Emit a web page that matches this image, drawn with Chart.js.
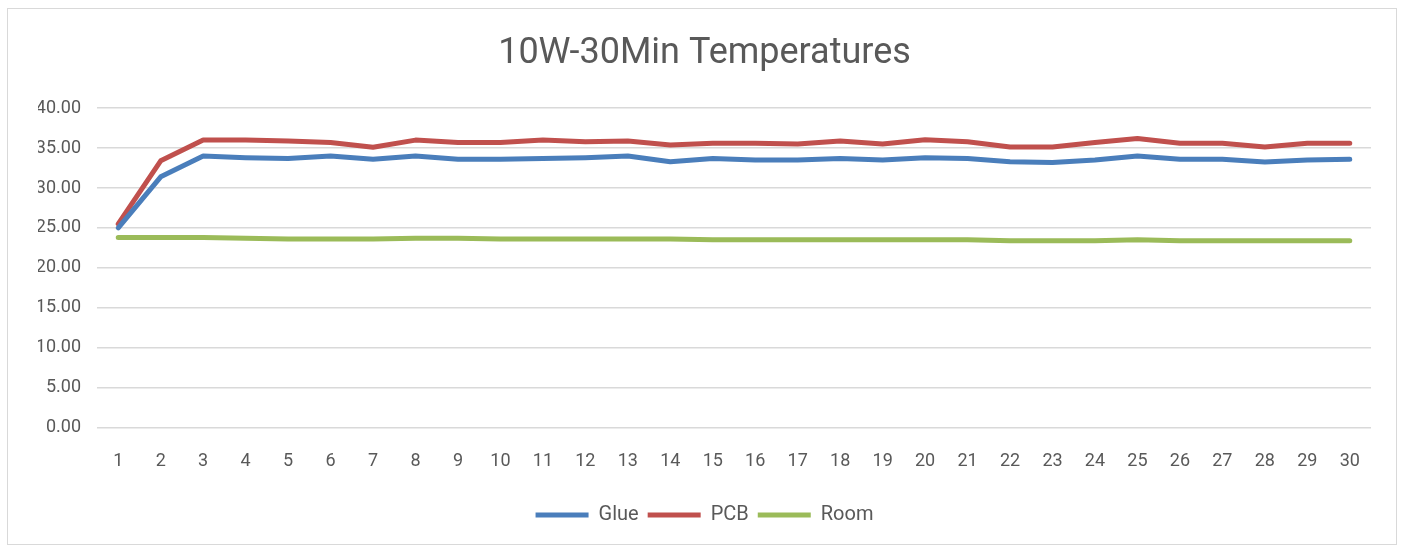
<!DOCTYPE html>
<html>
<head>
<meta charset="utf-8">
<script src="https://cdn.jsdelivr.net/npm/chart.js@4/dist/chart.umd.min.js"></script>
<style>
  html, body { margin: 0; padding: 0; background: #fff; }
  #wrap { position: relative; width: 1401px; height: 549px; }
  #frame { position: absolute; left: 7px; top: 8px; width: 1390px; height: 537px; border: 1px solid #d9d9d9; box-sizing: border-box; pointer-events: none; }
</style>
</head>
<body>
<div id="wrap">
  <canvas id="chart" width="1401" height="549"></canvas>
  <div id="frame"></div>
</div>
<script>
// minutes 1..30
const minutes = ['1','2','3','4','5','6','7','8','9','10','11','12','13','14','15','16','17','18','19','20','21','22','23','24','25','26','27','28','29','30'];

const glue = [25.0, 31.4, 34.0, 33.8, 33.7, 34.0, 33.6, 34.0, 33.6, 33.6, 33.7, 33.8, 34.0, 33.3, 33.7,
              33.5, 33.5, 33.7, 33.5, 33.8, 33.7, 33.3, 33.2, 33.5, 34.0, 33.6, 33.6, 33.25, 33.5, 33.6];
const pcb  = [25.5, 33.4, 36.0, 36.0, 35.9, 35.7, 35.1, 36.0, 35.7, 35.7, 36.0, 35.8, 35.9, 35.4, 35.6,
              35.6, 35.5, 35.9, 35.5, 36.05, 35.8, 35.15, 35.15, 35.7, 36.2, 35.6, 35.6, 35.15, 35.6, 35.6];
const room = [23.8, 23.8, 23.8, 23.7, 23.6, 23.6, 23.6, 23.7, 23.7, 23.6, 23.6, 23.6, 23.6, 23.6, 23.5,
              23.5, 23.5, 23.5, 23.5, 23.5, 23.5, 23.4, 23.4, 23.4, 23.5, 23.4, 23.4, 23.4, 23.4, 23.4];

const FONT = 'Roboto, "Noto Sans", sans-serif';
const TEXT = '#595959';

function line(label, data, color) {
  return {
    label, data,
    borderColor: color,
    backgroundColor: color,
    borderWidth: 5,
    borderCapStyle: 'round',
    borderJoinStyle: 'round',
    pointRadius: 0,
    tension: 0,
    fill: false,
  };
}

new Chart(document.getElementById('chart'), {
  type: 'line',
  data: {
    labels: minutes,
    datasets: [
      line('Glue', glue, '#4a7ebb'),
      line('PCB', pcb, '#c0504d'),
      line('Room', room, '#9bbb59'),
    ],
  },
  options: {
    responsive: false,
    animation: false,
    layout: { padding: { left: 38, right: 30, top: 14, bottom: 14 } },
    plugins: {
      title: {
        display: true,
        text: '10W-30Min Temperatures',
        color: TEXT,
        font: { family: FONT, size: 36, weight: 'normal' },
        padding: { top: 18, bottom: 33 },
      },
      legend: {
        position: 'bottom',
        labels: {
          usePointStyle: true,
          pointStyle: 'line',
          pointStyleWidth: 53,
          color: TEXT,
          font: { family: FONT, size: 20 },
          padding: 9,
        },
      },
      tooltip: { enabled: false },
    },
    scales: {
      x: {
        offset: true,
        afterFit(scale) { scale.height += 1; },
        grid: { display: false, drawTicks: false },
        border: { display: false },
        ticks: { color: TEXT, font: { family: FONT, size: 18 }, padding: 23, maxRotation: 0, autoSkip: false },
      },
      y: {
        min: 0, max: 40,
        afterFit(scale) { scale.width = 59; },
        grid: { color: '#d9d9d9', lineWidth: 1.5, drawTicks: false },
        border: { display: false },
        ticks: {
          stepSize: 5,
          color: TEXT,
          font: { family: FONT, size: 18 },
          padding: 16,
          callback: v => v.toFixed(2),
        },
      },
    },
  },
});
</script>
</body>
</html>
